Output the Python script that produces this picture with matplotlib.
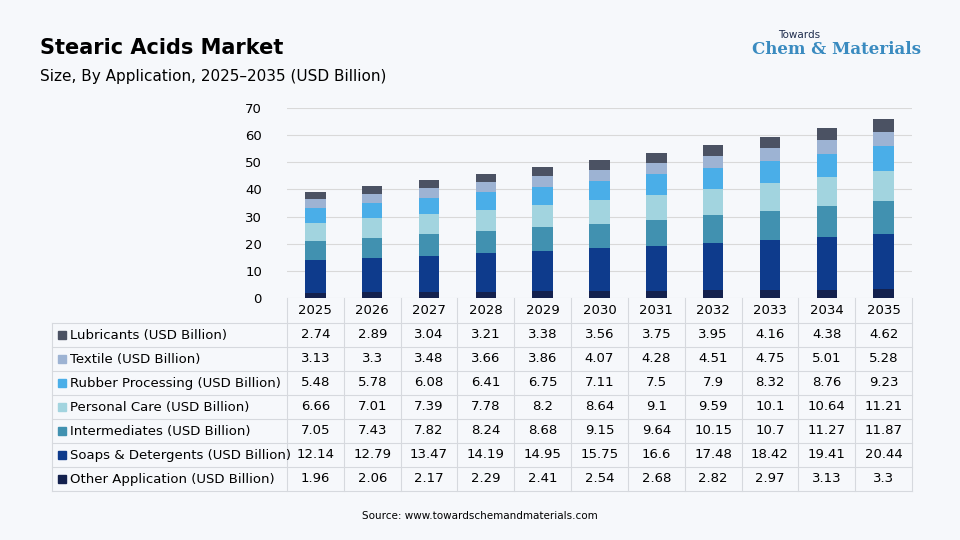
import matplotlib.pyplot as plt
import numpy as np

years = [str(y) for y in range(2025, 2036)]
series_names = [
    "Lubricants (USD Billion)",
    "Textile (USD Billion)",
    "Rubber Processing (USD Billion)",
    "Personal Care (USD Billion)",
    "Intermediates (USD Billion)",
    "Soaps & Detergents (USD Billion)",
    "Other Application (USD Billion)",
]
lubricants = [2.74, 2.89, 3.04, 3.21, 3.38, 3.56, 3.75, 3.95, 4.16, 4.38, 4.62]
textile = [3.13, 3.3, 3.48, 3.66, 3.86, 4.07, 4.28, 4.51, 4.75, 5.01, 5.28]
rubber = [5.48, 5.78, 6.08, 6.41, 6.75, 7.11, 7.5, 7.9, 8.32, 8.76, 9.23]
personal = [6.66, 7.01, 7.39, 7.78, 8.2, 8.64, 9.1, 9.59, 10.1, 10.64, 11.21]
intermediates = [7.05, 7.43, 7.82, 8.24, 8.68, 9.15, 9.64, 10.15, 10.7, 11.27, 11.87]
soaps = [12.14, 12.79, 13.47, 14.19, 14.95, 15.75, 16.6, 17.48, 18.42, 19.41, 20.44]
other = [1.96, 2.06, 2.17, 2.29, 2.41, 2.54, 2.68, 2.82, 2.97, 3.13, 3.3]

table_rows = [lubricants, textile, rubber, personal, intermediates, soaps, other]
colors = ["#4b5263", "#9db3d3", "#4aaee8", "#a2d4df", "#4191b0", "#0e3b8c", "#13214e"]

W, H = 960, 540
fig = plt.figure(figsize=(9.6, 5.4), dpi=100)
fig.patch.set_facecolor("#f6f8fb")

def fx(px): return px / W
def fy(py): return 1 - py / H

x0, x1 = 287, 912
y_top, y_zero = 108, 298
ax = fig.add_axes([fx(x0), fy(y_zero), fx(x1) - fx(x0), (y_zero - y_top) / H])
ax.set_facecolor("none")
x = np.arange(len(years))
bottom = np.zeros(len(years))
# stack from bottom: other -> lubricants
for vals, c in zip(table_rows[::-1], colors[::-1]):
    ax.bar(x, vals, 0.36, bottom=bottom, color=c, zorder=3)
    bottom += np.array(vals)
ax.set_xlim(-0.5, len(years) - 0.5)
ax.set_ylim(0, 70)
ax.set_yticks(range(0, 71, 10))
ax.yaxis.grid(True, color="#d9d9d9", linewidth=0.8, zorder=0)
ax.tick_params(axis="y", length=0, labelsize=9.5, pad=18)
ax.tick_params(axis="x", length=0, labelbottom=False)
for s in ax.spines.values():
    s.set_visible(False)

# table
col_w = (x1 - x0) / len(years)
lab_left = 52
row_h = 24
yr_top = 298
tbl_top = 323
line_c = "#d6d9de"
fs = 9.5
for i, yr in enumerate(years):
    fig.text(fx(x0 + (i + 0.5) * col_w), fy(yr_top + 13), yr, ha="center", va="center", fontsize=fs)
for i in range(len(years) + 1):
    xv = x0 + i * col_w
    fig.add_artist(plt.Line2D([fx(xv)] * 2, [fy(yr_top), fy(tbl_top + 7 * row_h)], color=line_c, lw=0.8))
fig.add_artist(plt.Line2D([fx(lab_left)] * 2, [fy(tbl_top), fy(tbl_top + 7 * row_h)], color=line_c, lw=0.8))
for r in range(8):
    yh = tbl_top + r * row_h
    fig.add_artist(plt.Line2D([fx(lab_left), fx(x1)], [fy(yh)] * 2, color=line_c, lw=0.8))
for r, (name, vals, c) in enumerate(zip(series_names, table_rows, colors)):
    yc = tbl_top + (r + 0.5) * row_h
    fig.patches.append(plt.Rectangle((fx(58), fy(yc + 4)), 8 / W, 8 / H, color=c, transform=fig.transFigure))
    fig.text(fx(70), fy(yc), name, ha="left", va="center", fontsize=fs)
    for i, v in enumerate(vals):
        fig.text(fx(x0 + (i + 0.5) * col_w), fy(yc), f"{v:g}", ha="center", va="center", fontsize=fs)

fig.text(fx(40), fy(48), "Stearic Acids Market", fontsize=15, fontweight="bold", va="center")
fig.text(fx(40), fy(76), "Size, By Application, 2025–2035 (USD Billion)", fontsize=11, va="center")
fig.text(fx(778), fy(35), "Towards", fontsize=7.5, va="center", color="#1f2d4d")
fig.text(fx(752), fy(50), "Chem & Materials", fontsize=12, va="center", color="#3a8bc0",
         family="DejaVu Serif", fontweight="bold")
fig.text(fx(480), fy(516), "Source: www.towardschemandmaterials.com", fontsize=7.5, ha="center", va="center")

fig.savefig("out.png", dpi=100, facecolor=fig.get_facecolor())
